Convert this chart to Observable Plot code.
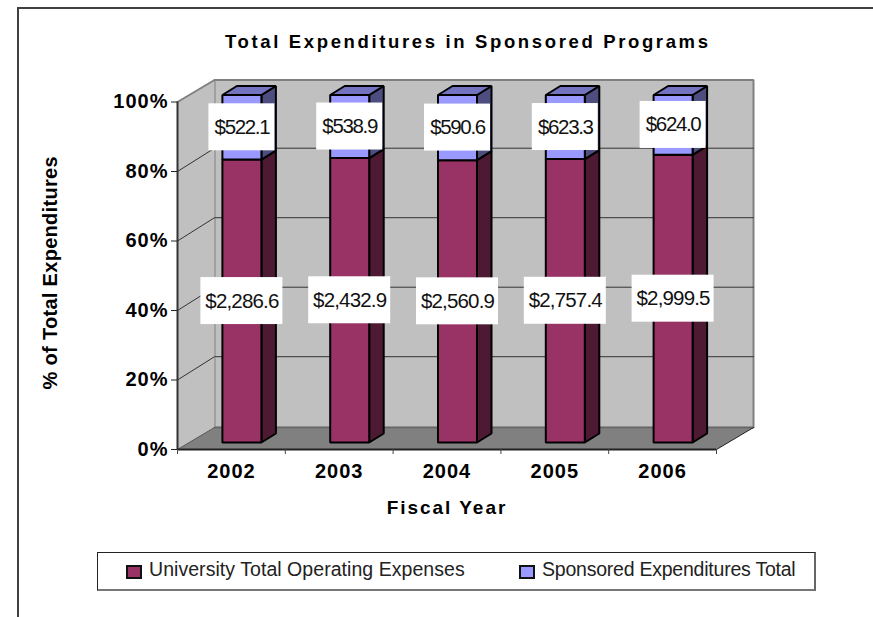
<!DOCTYPE html>
<html><head><meta charset="utf-8">
<script src="https://cdn.jsdelivr.net/npm/d3@7"></script>
<script src="https://cdn.jsdelivr.net/npm/@observablehq/plot@0.6"></script>
<style>
html,body{margin:0;padding:0;background:#fff;}
#page{position:relative;width:873px;height:617px;overflow:hidden;font-family:"Liberation Sans",Arial,sans-serif;color:#000;}
#frame{position:absolute;left:17px;top:7px;right:-5px;bottom:-5px;border:2px solid #404040;pointer-events:none;}
#title{height:60px;line-height:84px;padding-left:225px;font-weight:bold;font-size:18.5px;white-space:nowrap;}
#legend{position:absolute;left:97px;top:552px;width:719px;height:39px;box-sizing:border-box;border:1px solid #222;border-right:2px solid #666;border-bottom:2px solid #777;background:#fff;}
#legend .sw{position:absolute;top:12px;width:12px;height:10px;border:2px solid #111;}
#legend .lb{position:absolute;top:-2px;line-height:36px;font-size:19.5px;white-space:nowrap;color:#222;}
</style></head>
<body><div id="page">
<div id="frame"></div>
<div id="title"></div>
<div id="chart"></div>
<div id="legend"></div>
</div>
<script>
const chartTitle = "Total Expenditures in Sponsored Programs";
const yTitle = "% of Total Expenditures";
const xTitle = "Fiscal Year";
const years = [2002, 2003, 2004, 2005, 2006];
const university = [2286.6, 2432.9, 2560.9, 2757.4, 2999.5];
const sponsored = [522.1, 538.9, 590.6, 623.3, 624.0];
const universityName = "University Total Operating Expenses";
const sponsoredName = "Sponsored Expenditures Total";
const percentTicks = [0, 20, 40, 60, 80, 100];

// letter spacing that makes a text as wide as the original
const ctx = document.createElement("canvas").getContext("2d");
const spacing = (text, font, target) => {
  ctx.font = font;
  return ((target - ctx.measureText(text).width) / (text.length - 1)).toFixed(3) + "px";
};
const FF = '"Liberation Sans", Arial, sans-serif';

const ttl = document.getElementById("title");
ttl.textContent = chartTitle;
ttl.style.letterSpacing = spacing(chartTitle, `bold 18.5px ${FF}`, 483);

// projection constants of the 3D box, in data units
const wallDx = 0.3432, wallDy = 6.33, gridDy = 6.7;
const barDx = 0.0974, barDy = 2.01;
const barDepthX = 0.1345, barDepthY = 2.59;
const barHalf = 0.1809;
const boxHalfWide = 0.3803, boxHalfNarrow = 0.306, boxHalfTall = 6.76;

const poly = (id, pts) => pts.map(([x, y]) => ({id, x, y}));
const face = (polys, fill, stroke, strokeWidth) =>
  Plot.line(polys.flat(), {x: "x", y: "y", z: "id", fill, stroke, strokeWidth,
    curve: "linear-closed", strokeLinejoin: "miter"});

// segments of each 100% bar
const segs = years.flatMap((year, i) => {
  const total = university[i] + sponsored[i];
  const split = university[i] / total * 100;
  return [
    {i, year, s: "u", y0: 0, y1: split, value: university[i]},
    {i, year, s: "s", y0: split, y1: 100, value: sponsored[i]}
  ];
}).map(d => ({...d,
  l: d.i + 0.5 + barDx - barHalf, r: d.i + 0.5 + barDx + barHalf,
  b: d.y0 + barDy, t: d.y1 + barDy,
  mx: d.i + 0.5 + barDx, my: (d.y0 + d.y1) / 2 + barDy,
  half: d.s === "u" ? boxHalfWide : boxHalfNarrow}));

const front = s => segs.filter(d => d.s === s).map(d => poly("f" + d.i + s,
  [[d.l, d.b], [d.r, d.b], [d.r, d.t], [d.l, d.t]]));
const side = s => segs.filter(d => d.s === s).map(d => poly("r" + d.i + s,
  [[d.r, d.b], [d.r + barDepthX, d.b + barDepthY], [d.r + barDepthX, d.t + barDepthY], [d.r, d.t]]));
const top_ = segs.filter(d => d.s === "s").map(d => poly("t" + d.i,
  [[d.l, d.t], [d.r, d.t], [d.r + barDepthX, d.t + barDepthY], [d.l + barDepthX, d.t + barDepthY]]));

const n = years.length;
const wall = [poly("back", [[wallDx, wallDy], [n + wallDx, wallDy], [n + wallDx, 100 + wallDy], [wallDx, 100 + wallDy]])];
const sideWall = [poly("side", [[0, 0], [wallDx, wallDy], [wallDx, 100 + wallDy], [0, 100]])];
const floor = [poly("floor", [[0, 0], [n, 0], [n + wallDx, wallDy], [wallDx, wallDy]])];

const gridPct = percentTicks.slice(1, -1);
const segLine = gridPct.flatMap(p => [
  {k: p, x: 0, y: p}, {k: p, x: wallDx, y: p + gridDy}, {k: p, x: n + wallDx, y: p + gridDy}
]);

const boldAxis = 20;
const svg = Plot.plot({
  width: 873, height: 485,
  marginLeft: 177, marginRight: 157, marginTop: 41.5, marginBottom: 96,
  x: {domain: [0, n], label: null},
  y: {domain: [0, 100], label: null},
  style: {background: "transparent", fontFamily: FF, overflow: "visible"},
  marks: [
    face(wall, "#c0c0c0", "#808080", 2),
    face(sideWall, "#c0c0c0", "none", 0),
    Plot.line([{x: 0, y: 100}, {x: wallDx, y: 100 + wallDy}], {x: "x", y: "y", stroke: "#808080", strokeWidth: 2}),
    Plot.line(segLine, {x: "x", y: "y", z: "k", stroke: "#333", strokeWidth: 1, strokeLinejoin: "miter"}),
    face(floor, "#808080", "none", 0),
    Plot.line([{x: wallDx, y: wallDy}, {x: n + wallDx, y: wallDy}], {x: "x", y: "y", stroke: "#666", strokeWidth: 1.5}),
    Plot.line([{x: n, y: 0}, {x: n + wallDx, y: wallDy}], {x: "x", y: "y", stroke: "#222", strokeWidth: 1}),
    Plot.line([{x: 0, y: 0}, {x: wallDx, y: wallDy}], {x: "x", y: "y", stroke: "#555", strokeWidth: 1}),
    face(side("u"), "#4d1933", "#000", 2),
    face(front("u"), "#993366", "#000", 2),
    face(side("s"), "#4d4d80", "#000", 2),
    face(top_, "#7373bf", "#000", 2),
    face(front("s"), "#9999ff", "#000", 2),
    Plot.ruleX([0], {y1: 0, y2: 100, stroke: "#333", strokeWidth: 2}),
    Plot.ruleY([0], {x1: 0, x2: n, stroke: "#222", strokeWidth: 2}),
    Plot.rect(segs, {x1: d => d.mx - d.half, x2: d => d.mx + d.half,
      y1: d => d.my - boxHalfTall, y2: d => d.my + boxHalfTall, fill: "#fff", inset: 0}),
    Plot.text(segs, {x: "mx", y: "my", text: d => "$" + d3.format(",.1f")(d.value),
      fontSize: 20.5, fill: "#111", className: "vals"}),
    Plot.axisY({ticks: percentTicks, tickFormat: d => d + "%", tickSize: 6, tickPadding: 3,
      fontSize: boldAxis, fontWeight: "bold", stroke: "#222", fill: "#000", label: null, className: "ax"}),
    Plot.axisX({ticks: d3.range(n + 1), tickFormat: () => "", tickSize: 5, stroke: "#444", label: null}),
    Plot.text(years, {x: (d, i) => i + 0.5, y: 0, text: d => String(d), dy: 22,
      fontSize: boldAxis, fontWeight: "bold", fill: "#000", className: "ax"}),
    Plot.text([xTitle], {x: n / 2, y: 0, text: d => d, dy: 58,
      fontSize: 19, fontWeight: "bold", fill: "#000", className: "xt"}),
    Plot.text([yTitle], {frameAnchor: "left", textAnchor: "middle", dx: -127, dy: -3, rotate: -90, text: d => d,
      fontSize: 20, fontWeight: "bold", fill: "#000", className: "yt"})
  ]
});
document.getElementById("chart").appendChild(svg);
d3.select(svg).selectAll(".ax text").style("letter-spacing", "1px");
d3.select(svg).selectAll("g[aria-label='y-axis tick label'] text").style("letter-spacing", "1px");
d3.select(svg).selectAll(".xt text").style("letter-spacing", spacing(xTitle, `bold 19px ${FF}`, 119));
d3.select(svg).selectAll(".yt text").style("letter-spacing", spacing(yTitle, `bold 20px ${FF}`, 233));
d3.select(svg).selectAll(".vals text").each(function() {
  const s = this.textContent;
  d3.select(this).style("letter-spacing", spacing(s, `20.5px ${FF}`, s.length > 6 ? 74 : 56));
});

// legend
const lg = document.getElementById("legend");
[[universityName, "#993366", 28, 51, 316], [sponsoredName, "#9999ff", 421, 444, 254]].forEach(([name, color, sx, tx, w]) => {
  const sw = document.createElement("span");
  sw.className = "sw"; sw.style.left = sx + "px"; sw.style.background = color;
  const lb = document.createElement("span");
  lb.className = "lb"; lb.style.left = tx + "px"; lb.textContent = name;
  lb.style.letterSpacing = spacing(name, `19.5px ${FF}`, w);
  lg.append(sw, lb);
});
</script>
</body></html>
